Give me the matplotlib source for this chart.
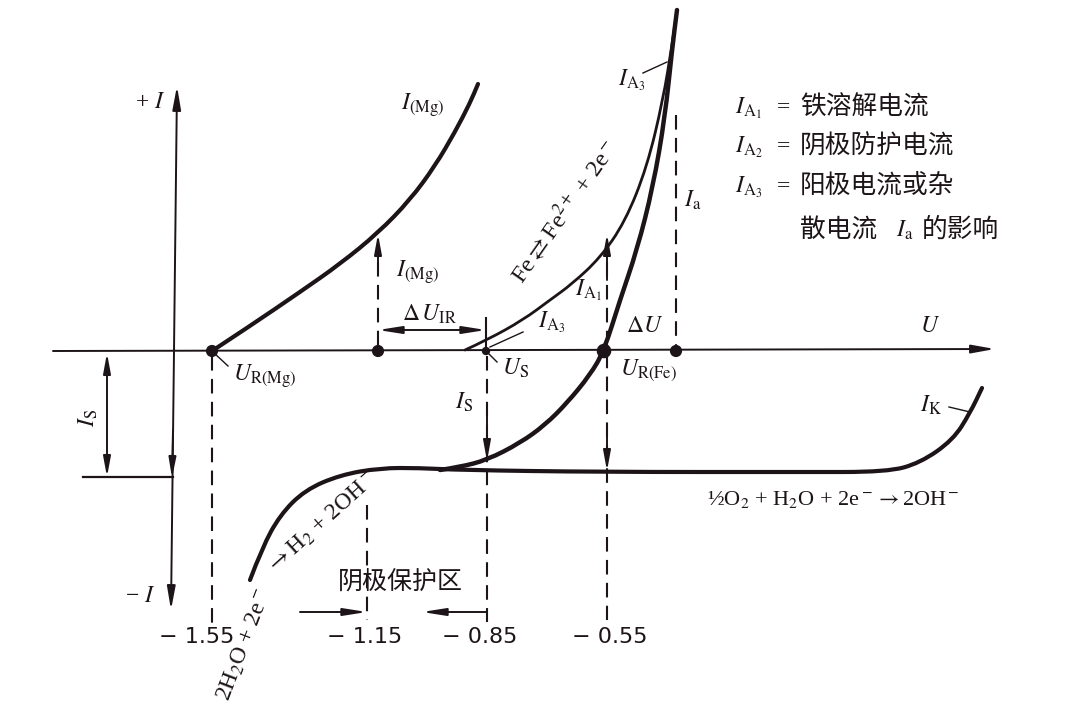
import matplotlib
matplotlib.use("Agg")
import matplotlib.pyplot as plt
from matplotlib.path import Path
from matplotlib.patches import PathPatch

plt.rcParams['font.family'] = ['Liberation Serif', 'Noto Sans CJK SC', 'DejaVu Sans']
plt.rcParams['mathtext.fontset'] = 'stix'

INK = '#1c1418'

# Kurven (Bildkoordinaten, x nach rechts, y nach unten)
mg_x = [212, 250, 300, 340, 378, 410, 435, 455, 470, 478]
mg_y = [351, 326, 292, 264, 233, 200, 166, 132, 103, 84]

fe_thin_x = [465, 487, 523, 550, 572, 600, 625, 647, 663, 672, 677]
fe_thin_y = [350, 340, 320, 300, 284, 258, 222, 167, 100, 45, 10]

fe_thick_x = [440, 460, 487, 520, 545, 567, 590, 604, 620, 637, 653, 665, 672, 677]
fe_thick_y = [470, 467, 460, 443, 425, 403, 375, 351, 300, 250, 187, 117, 50, 10]

kat_x = [250, 262, 280, 305, 340, 380, 420, 460, 600, 800, 887, 920, 953, 970, 982]
kat_y = [580, 548, 515, 490, 475, 468, 468, 470, 472, 472, 472, 463, 440, 413, 388]

dots_x = [212, 378, 486, 604, 676]
dots_s = [60, 60, 25, 90, 60]

tick_x = [197, 365, 480, 610]
tick_lab = ['− 1.55', '− 1.15', '− 0.85', '− 0.55']

legend_sym = [r'$I_{{\rm A}_1}$', r'$I_{{\rm A}_2}$', r'$I_{{\rm A}_3}$']
legend_txt = ['铁溶解电流', '阴极防护电流', '阳极电流或杂']
legend_y = [108, 147, 187]

fig = plt.figure(figsize=(10.8, 7.17), dpi=100)
ax = fig.add_axes([0, 0, 1, 1])
ax.set_xlim(0, 1080)
ax.set_ylim(717, 0)
ax.axis('off')


def curve(xs, ys, lw):
    # glatte Kurve: Stuetzpunkte als Kontrollpunkte quadratischer Bezier-Stuecke
    pts = list(zip(xs, ys))
    verts = [pts[0]]
    codes = [Path.MOVETO]
    for i in range(1, len(pts) - 1):
        mid = ((pts[i][0] + pts[i + 1][0]) / 2, (pts[i][1] + pts[i + 1][1]) / 2)
        verts += [pts[i], mid]
        codes += [Path.CURVE3, Path.CURVE3]
    verts.append(pts[-1])
    codes.append(Path.LINETO)
    ax.add_patch(PathPatch(Path(verts, codes), fill=False, lw=lw, edgecolor=INK,
                           capstyle='round', joinstyle='round'))


def arrow(x0, y0, x1, y1, style='-|>', lw=1.4, hl=1.0, hw=0.22):
    ax.annotate('', xy=(x1, y1), xytext=(x0, y0),
                arrowprops=dict(arrowstyle=f'{style},head_length={hl},head_width={hw}',
                                lw=lw, color=INK, shrinkA=0, shrinkB=0))


def dashed(x, y0, y1):
    ax.plot([x, x], [y0, y1], color=INK, lw=1.5, dashes=(7, 4))


# Achsen
arrow(53, 351, 995, 349, hl=1.4, hw=0.25)
arrow(174, 351, 177, 86, hl=1.4, hw=0.25)
arrow(174, 351, 171, 610, hl=1.4, hw=0.25)
arrow(173, 430, 172, 478, hl=1.2, hw=0.22)
ax.plot([83, 173], [477, 477], color=INK, lw=1.6)
arrow(107, 477, 107, 353, style='<|-|>', hl=1.2, hw=0.22)

# Kurven
curve(mg_x, mg_y, 3.0)
curve(fe_thin_x, fe_thin_y, 2.0)
curve(fe_thick_x, fe_thick_y, 3.2)
curve(kat_x, kat_y, 3.0)
ax.scatter(dots_x, [351] * len(dots_x), s=dots_s, color=INK, zorder=5)

# Hilfslinien
dashed(212, 356, 630)
dashed(367, 505, 620)
dashed(487, 356, 622)
dashed(607, 262, 620)
dashed(676, 115, 351)
dashed(378, 262, 351)
arrow(378, 275, 378, 234, hl=1.2, hw=0.22)
arrow(607, 280, 607, 234, hl=1.2, hw=0.22)
arrow(607, 425, 607, 471, hl=1.2, hw=0.22)
arrow(487, 410, 487, 461, hl=1.2, hw=0.22)
ax.plot([486, 486], [318, 351], color=INK, lw=1.5)
arrow(486, 330, 378, 330, style='<|-|>', hl=1.4, hw=0.22)
arrow(300, 612, 367, 612, hl=1.4, hw=0.22)
arrow(487, 612, 422, 612, hl=1.4, hw=0.22)

# Hinweislinien
ax.plot([213, 228], [352, 366], color=INK, lw=1.0)
ax.plot([487, 497], [352, 362], color=INK, lw=1.0)
ax.plot([490, 523], [347, 332], color=INK, lw=1.0)
ax.plot([643, 667], [73, 62], color=INK, lw=1.0)
ax.plot([949, 970], [407, 412], color=INK, lw=1.0)

fs = 17
kw = dict(color=INK, ha='center', va='center')
ax.text(150, 103, r'+ $I$', fontsize=fs, **kw)
ax.text(140, 597, r'− $I$', fontsize=fs, **kw)
ax.text(88, 418, r'$I_{\rm S}$', fontsize=fs, rotation=90, **kw)
ax.text(423, 105, r'$I_{\rm (Mg)}$', fontsize=fs, **kw)
ax.text(418, 272, r'$I_{\rm (Mg)}$', fontsize=fs, **kw)
ax.text(430, 314, r'$\Delta\, U_{\rm IR}$', fontsize=fs, **kw)
ax.text(265, 376, r'$U_{\rm R(Mg)}$', fontsize=fs, **kw)
ax.text(552, 322, r'$I_{{\rm A}_3}$', fontsize=fs, **kw)
ax.text(516, 368, r'$U_{\rm S}$', fontsize=fs, **kw)
ax.text(588, 290, r'$I_{{\rm A}_1}$', fontsize=fs, **kw)
ax.text(645, 327, r'$\Delta U$', fontsize=fs, **kw)
ax.text(648, 370, r'$U_{\rm R(Fe)}$', fontsize=fs, **kw)
ax.text(930, 326, r'$U$', fontsize=fs, **kw)
ax.text(693, 200, r'$I_{\rm a}$', fontsize=fs, **kw)
ax.text(632, 80, r'$I_{{\rm A}_3}$', fontsize=fs, **kw)
ax.text(464, 402, r'$I_{\rm S}$', fontsize=fs, **kw)
ax.text(931, 405, r'$I_{\rm K}$', fontsize=fs, **kw)
ax.text(833, 500, r'½O$_2$ + H$_2$O + 2e$^-$$\rightarrow$2OH$^-$', fontsize=16, **kw)
ax.text(400, 583, '阴极保护区', fontsize=18, family='Noto Sans CJK SC', **kw)
ax.text(564, 211, r'Fe$\rightleftarrows$Fe$^{2+}$ + 2e$^-$', fontsize=17.5, rotation=55, **kw)
ax.text(245, 645, r'2H$_2$O + 2e$^-$', fontsize=17, rotation=69, **kw)
ax.text(322, 523, r'$\rightarrow$H$_2$ + 2OH$^-$', fontsize=17, rotation=42, **kw)

for x, lab in zip(tick_x, tick_lab):
    ax.text(x, 637, lab, fontsize=16, family='DejaVu Sans', **kw)

for y, sym, txt in zip(legend_y, legend_sym, legend_txt):
    ax.text(735, y, sym, fontsize=17, color=INK, ha='left', va='center')
    ax.text(783, y, '=', fontsize=17, color=INK, ha='center', va='center')
    ax.text(800, y, txt, fontsize=18.5, family='Noto Sans CJK SC', color=INK,
            ha='left', va='center')
ax.text(800, 230, '散电流', fontsize=18.5, family='Noto Sans CJK SC', color=INK,
        ha='left', va='center')
ax.text(905, 230, r'$I_{\rm a}$', fontsize=17, color=INK, ha='center', va='center')
ax.text(922, 230, '的影响', fontsize=18.5, family='Noto Sans CJK SC', color=INK,
        ha='left', va='center')

fig.savefig('out.png', dpi=100)
